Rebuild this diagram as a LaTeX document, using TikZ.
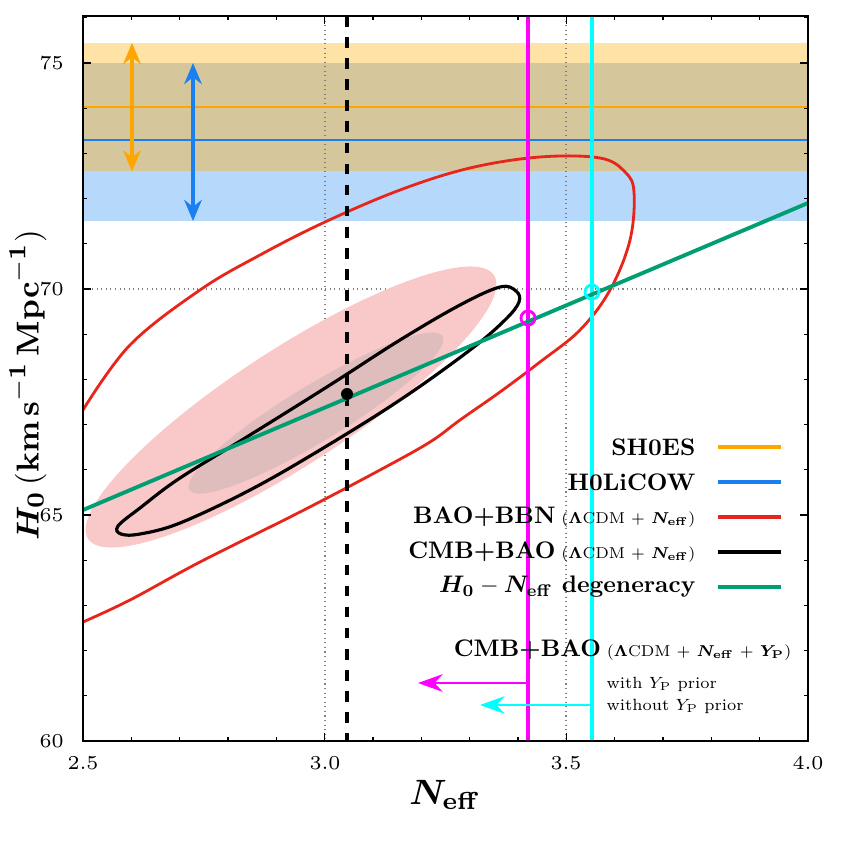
\documentclass[tikz,border=0pt]{standalone}
\usepackage{amsmath,bm,graphicx}
\usetikzlibrary{arrows.meta}
\definecolor{cor}{HTML}{FFA500}
\definecolor{cbl}{HTML}{1A80F0}
\definecolor{cre}{HTML}{E8251A}
\definecolor{cgr}{HTML}{009E73}
\definecolor{cmg}{RGB}{255,0,255}
\definecolor{ccy}{RGB}{0,255,255}
\definecolor{bor}{HTML}{FFE2A6}
\definecolor{bbl}{HTML}{B5D8FB}
\definecolor{bov}{HTML}{D5C69C}
\definecolor{pk1}{HTML}{F9C8C8}
\definecolor{pk2}{HTML}{E0BDBD}
\newcommand\lgt[1]{\scalebox{0.68}{\fontsize{10}{12}\selectfont\bfseries #1}}
\newcommand\smallpar[1]{\scalebox{0.64}{\fontsize{7}{8}\selectfont #1}}
\newcommand\tinyt[1]{\scalebox{0.66}{\fontsize{7}{8}\selectfont #1}}
\tikzset{lg/.style={anchor=east,inner sep=0pt},
 lgline/.style={line width=0.9pt},
 tk/.style={font=\fontsize{5.6}{7}\selectfont},
 dar/.style={line width=0.9pt,{Stealth[length=6pt,width=5pt]}-{Stealth[length=6pt,width=5pt]}},
 lar/.style={line width=0.7pt,-{Stealth[length=7pt,width=5pt]}}}
\begin{document}
\begin{tikzpicture}[x=0.01cm,y=-0.01cm]
\useasboundingbox (0,0) rectangle (843,843);
% bands
\fill[bbl] (83,63) rectangle (808,221);
\fill[bor] (83,43) rectangle (808,171.5);
\fill[bov] (83,63) rectangle (808,171.5);
% grid
\draw[gray,densely dotted,line width=0.3pt] (325,16)--(325,741) (566,16)--(566,741) (83,289)--(808,289);
% pink ellipses
\fill[pk1,rotate around={33:(291,407)}] (291,407) ellipse (242 and 58);
\fill[pk2,rotate around={31.3:(316,413)}] (316,413) ellipse (148 and 28);
% lines
\draw[cor,line width=0.6pt] (83,106.8)--(808,106.8);
\draw[cbl,line width=0.6pt] (83,139.8)--(808,139.8);
\draw[cor,dar] (132,43)--(132,171.5);
\draw[cbl,dar] (193,63)--(193,221);
% red contour
\draw[cre,line width=0.8pt] plot[smooth,tension=0.6] coordinates {(83,410) (130,345) (200,290) (260,255) (325,222) (400,190) (470,168) (540,157) (600,158) (625,172) (634,192) (630,240) (610,290) (580,330) (540,362) (500,392) (460,420) (430,442) (380,470) (300,512) (200,562) (130,600) (83,622)};
% black contour
\draw[black,line width=0.9pt] plot[smooth cycle,tension=0.6] coordinates {(118,526) (140,508) (180,478) (250,435) (330,385) (400,340) (460,305) (500,287) (516,291) (519,302) (505,320) (470,350) (400,400) (320,450) (250,490) (180,523) (140,534) (121,534)};
% dashed
\draw[black,dashed,line width=1pt] (347,16)--(347,741);
\draw[cmg,line width=1pt] (528,16)--(528,741);
\draw[ccy,line width=1pt] (592,16)--(592,741);
% green
\draw[cgr,line width=1.1pt] (83,510)--(808,203);
\node[draw=cmg,line width=0.8pt,circle,minimum size=0.14cm,inner sep=0pt] (cm) at (528,318) {};
\node[draw=ccy,line width=0.8pt,circle,minimum size=0.14cm,inner sep=0pt] (cc) at (592,292) {};
\node[fill=black,circle,minimum size=0.12cm,inner sep=0pt] (bd) at (347,394) {};
% bottom arrows
\coordinate (ma) at (528,683); \coordinate (mb) at (418,683);
\coordinate (ca) at (592,705); \coordinate (cb) at (480,705);
\draw[cmg,lar] (ma)--(mb);
\draw[ccy,lar] (ca)--(cb);
% frame
\draw[line width=0.5pt] (83,16) rectangle (808,741);
\foreach \i in {0,...,15}{\draw[line width=0.3pt] (83+\i*48.33,741)--++(0,-4) (83+\i*48.33,16)--++(0,4);}
\foreach \i in {0,5,10,15}{\draw[line width=0.4pt] (83+\i*48.33,741)--++(0,-8) (83+\i*48.33,16)--++(0,8);}
\foreach \i in {0,...,16}{\draw[line width=0.3pt] (83,741-\i*45.2)--++(4,0) (808,741-\i*45.2)--++(-4,0);}
\foreach \i in {0,5,10,15}{\draw[line width=0.4pt] (83,741-\i*45.2)--++(8,0) (808,741-\i*45.2)--++(-8,0);}
\node[tk] (x1) at (83,763) {2.5};
\node[tk] (x2) at (325,763) {3.0};
\node[tk] (x3) at (566,763) {3.5};
\node[tk] (x4) at (808,763) {4.0};
\node[tk,anchor=east] (y1) at (76,741) {60};
\node[tk,anchor=east] (y2) at (76,515) {65};
\node[tk,anchor=east] (y3) at (76,289) {70};
\node[tk,anchor=east] (y4) at (76,63) {75};
\node[font=\fontsize{10}{12}\selectfont] (xl) at (445,795) {$\bm{N}_{\mathbf{eff}}$};
\node[font=\fontsize{9.5}{12}\selectfont,rotate=90] (yl) at (28,385) {$\bm{H}_{\mathbf 0}\,\mathbf{(km\,s^{-1}\,Mpc^{-1})}$};
% legend
\node[lg] (l1) at (696,447) {\lgt{SH0ES}};
\node[lg] (l2) at (696,482) {\lgt{H0LiCOW}};
\node[lg] (l3) at (696,517) {\lgt{BAO+BBN}\,\smallpar{($\mathbf{\Lambda}$CDM $+$ $\bm{N}_{\mathbf{eff}}$)}};
\node[lg] (l4) at (696,552) {\lgt{CMB+BAO}\,\smallpar{($\mathbf{\Lambda}$CDM $+$ $\bm{N}_{\mathbf{eff}}$)}};
\node[lg] (l5) at (696,587) {\lgt{$\bm{H}_{\mathbf 0}-\bm{N}_{\mathbf{eff}}$ degeneracy}};
\draw[cor,lgline] (718,447)--(781,447);
\draw[cbl,lgline] (718,482)--(781,482);
\draw[cre,lgline] (718,517)--(781,517);
\draw[black,lgline] (718,552)--(781,552);
\draw[cgr,lgline] (718,587)--(781,587);
\node[lg] (l6) at (792,650) {\lgt{CMB+BAO}\,\smallpar{($\mathbf{\Lambda}$CDM $+$ $\bm{N}_{\mathbf{eff}}$ $+$ $\bm{Y}_{\mathbf{P}}$)}};
\node[anchor=west,inner sep=0pt] (w1) at (606,684) {\tinyt{with $Y_{\mathrm P}$ prior}};
\node[anchor=west,inner sep=0pt] (w2) at (606,706) {\tinyt{without $Y_{\mathrm P}$ prior}};
\end{tikzpicture}
\end{document}
